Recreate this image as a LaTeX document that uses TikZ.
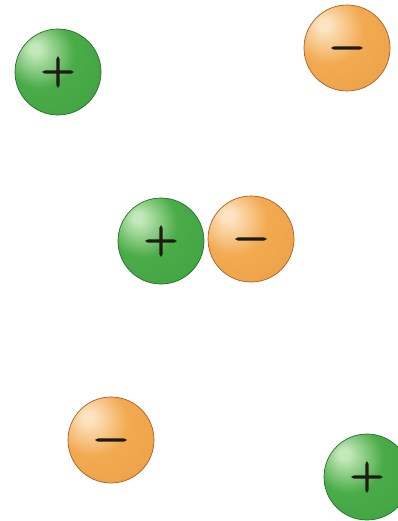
\documentclass[tikz,border=0pt]{standalone}
\usepackage{fontspec}
\newfontfamily\signfont{Latin Modern Roman}[FakeBold=3.2]
\definecolor{gHi}{RGB}{195,232,185}
\definecolor{gMid}{RGB}{74,172,72}
\definecolor{gDark}{RGB}{36,128,46}
\definecolor{gLine}{RGB}{36,112,42}
\definecolor{oHi}{RGB}{252,228,195}
\definecolor{oMid}{RGB}{242,170,80}
\definecolor{oDark}{RGB}{214,128,42}
\definecolor{oLine}{RGB}{172,94,36}
\definecolor{signcol}{RGB}{30,26,20}
\pgfdeclareradialshading{gballshade}{\pgfpoint{-14bp}{14bp}}{color(0bp)=(gHi); color(3bp)=(gHi); color(20bp)=(gMid); color(44bp)=(gMid!75!gDark); color(62bp)=(gDark); color(80bp)=(gDark)}
\pgfdeclareradialshading{oballshade}{\pgfpoint{-14bp}{14bp}}{color(0bp)=(oHi); color(3bp)=(oHi); color(20bp)=(oMid); color(44bp)=(oMid!75!oDark); color(62bp)=(oDark); color(80bp)=(oDark)}
\tikzset{
  ballbase/.style={circle, minimum size=86pt, inner sep=0pt, line width=0.7pt, shade,
    text height=28pt, text depth=5pt, text=signcol,
    font=\signfont\fontsize{46}{46}\selectfont},
  posball/.style={ballbase, shading=gballshade, draw=gLine},
  negball/.style={ballbase, shading=oballshade, draw=oLine}
}
\begin{document}
\begin{tikzpicture}[x=1pt,y=-1pt]
\useasboundingbox (0,0) rectangle (398,521);
\node[posball] (p1) at (58,72) {+};
\node[negball] (n1) at (347,48) {−};
\node[posball] (p2) at (161,241) {+};
\node[negball] (n2) at (251,239) {−};
\node[negball] (n3) at (111,440) {−};
\node[posball] (p3) at (367,477) {+};
\end{tikzpicture}
\end{document}
